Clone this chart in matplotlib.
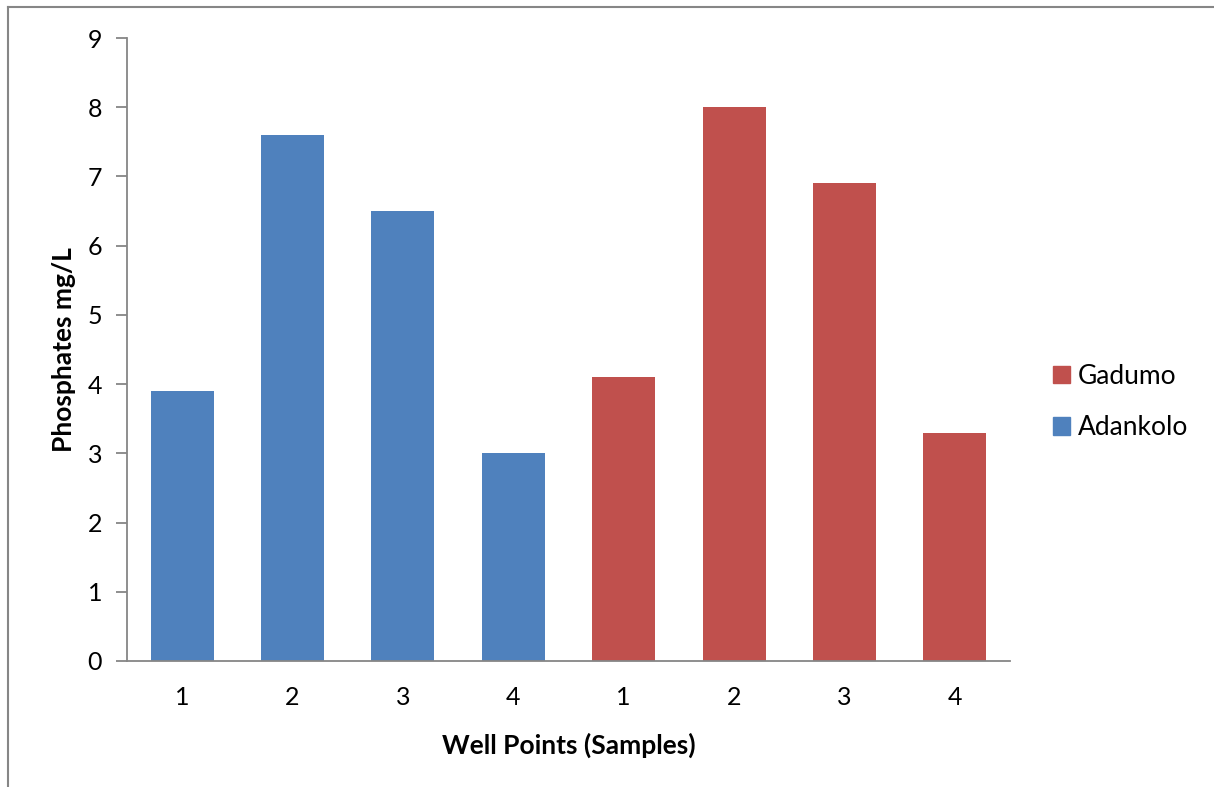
import matplotlib
matplotlib.use("Agg")
from matplotlib import pyplot as plt
from matplotlib.patches import Patch

well_points = ["1", "2", "3", "4"]
adankolo = [3.9, 7.6, 6.5, 3.0]
gadumo = [4.1, 8.0, 6.9, 3.3]

blue = "#4F81BD"
red = "#C0504D"
grey = "#868686"

plt.rcParams["font.family"] = ["Lato", "DejaVu Sans"]

fig = plt.figure(figsize=(12.14, 7.87), dpi=100)
ax = fig.add_axes([127 / 1214, 1 - 661 / 787, (1010 - 127) / 1214, (661 - 38) / 787])

n = len(well_points)
x_a = list(range(n))
x_g = list(range(n, 2 * n))
ax.bar(x_a, adankolo, width=0.57, color=blue)
ax.bar(x_g, gadumo, width=0.57, color=red)

ax.set_xlim(-0.5, 2 * n - 0.5)
ax.set_ylim(0, 9)
ax.set_yticks(range(10))
ax.set_xticks(x_a + x_g)
ax.set_xticklabels(well_points + well_points)

for s in ["top", "right"]:
    ax.spines[s].set_visible(False)
for s in ["left", "bottom"]:
    ax.spines[s].set_color(grey)
    ax.spines[s].set_linewidth(1.3)
ax.tick_params(axis="y", length=8, width=1.3, color=grey, labelsize=18, pad=10)
ax.tick_params(axis="x", length=0, labelsize=18, pad=18)

ax.set_ylabel("Phosphates mg/L", fontsize=19, fontweight="bold", labelpad=8)
ax.set_xlabel("Well Points (Samples)", fontsize=19, fontweight="bold", labelpad=17)

handles = [Patch(color=red), Patch(color=blue)]
fig.legend(handles, ["Gadumo", "Adankolo"], loc="center left",
           bbox_to_anchor=(1053 / 1214, 1 - 402 / 787), frameon=False,
           borderpad=0, borderaxespad=0,
           fontsize=19, handlelength=0.65, handleheight=0.65,
           handletextpad=0.3, labelspacing=1.0)

# chart frame edge (top and left only)
fig.add_artist(plt.Line2D([8 / 1214, 1], [1 - 7 / 787, 1 - 7 / 787], color=grey, lw=1.5))
fig.add_artist(plt.Line2D([8 / 1214, 8 / 1214], [0, 1 - 7 / 787], color=grey, lw=1.5))

fig.savefig("out.png", dpi=100)
